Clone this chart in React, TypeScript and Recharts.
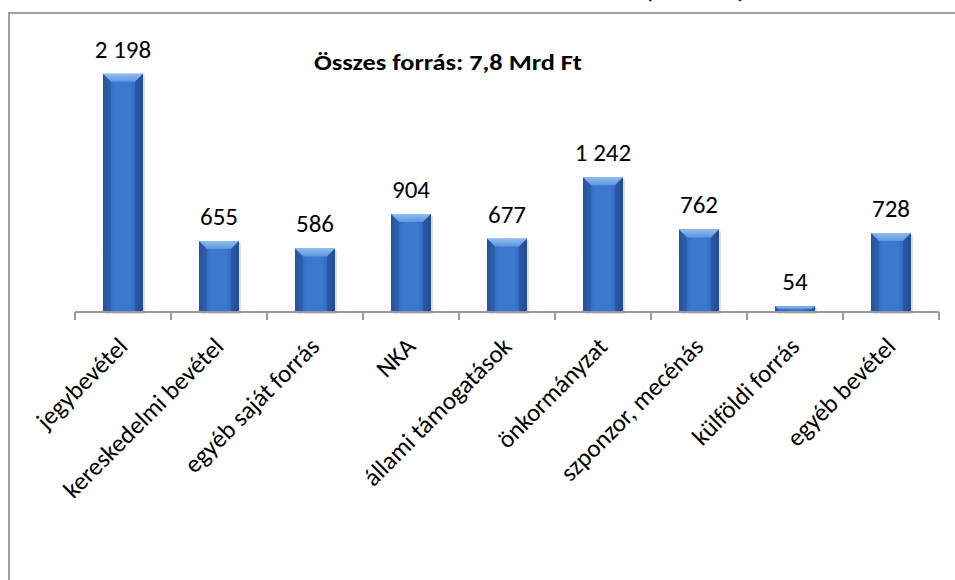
import { BarChart, Bar, XAxis, YAxis, LabelList } from "recharts";

const CATEGORIES = [
  "jegybevétel",
  "kereskedelmi bevétel",
  "egyéb saját forrás",
  "NKA",
  "állami támogatások",
  "önkormányzat",
  "szponzor, mecénás",
  "külföldi forrás",
  "egyéb bevétel",
];
const VALUES = [2198, 655, 586, 904, 677, 1242, 762, 54, 728];
const Y_DOMAIN = [0, 2500];
const TITLE = "Összes forrás: 7,8 Mrd Ft";
const UNIT = "(millió Ft)";

const data = CATEGORIES.map((name, i) => ({ name, value: VALUES[i] }));

const FONT = "Carlito, Calibri, Lato, sans-serif";
const AXIS = "#9a9a9a";

const fmt = (v: any) => String(v).replace(/\B(?=(\d{3})+(?!\d))/g, " ");

const BevelBar = (props: any) => {
  const { x, y, width, height } = props;
  if (!height || height <= 0) return null;
  const b = Math.min(8, height / 2);
  return (
    <g>
      <rect x={x + 2} y={y + 2} width={width} height={height} fill="rgba(0,0,0,0.12)" />
      <rect x={x} y={y} width={width} height={height} fill="url(#barBody)" />
      <polygon
        points={`${x},${y} ${x + width},${y} ${x + width - b},${y + b} ${x + b},${y + b}`}
        fill="url(#barTop)"
      />
      <polygon
        points={`${x},${y} ${x + b},${y + b} ${x + b},${y + height} ${x},${y + height}`}
        fill="rgba(20,50,110,0.22)"
      />
      <polygon
        points={`${x + width},${y} ${x + width - b},${y + b} ${x + width - b},${y + height} ${x + width},${y + height}`}
        fill="rgba(20,50,110,0.32)"
      />
    </g>
  );
};

const CatTick = (props: any) => {
  const { x, y, payload, index } = props;
  const half = payload && payload.offset ? payload.offset : 48;
  return (
    <g>
      <line x1={x - half} y1={y} x2={x - half} y2={y + 8} stroke={AXIS} strokeWidth={2} />
      {index === CATEGORIES.length - 1 && (
        <line x1={x + half} y1={y} x2={x + half} y2={y + 8} stroke={AXIS} strokeWidth={2} />
      )}
      <text
        transform={`translate(${x + 6},${y + 36}) rotate(-45)`}
        textAnchor="end"
        fontSize={25}
        fontFamily={FONT}
        fill="#000"
      >
        {payload.value}
      </text>
    </g>
  );
};

export default function App() {
  return (
    <div style={{ position: "fixed", left: 0, top: 0, width: 955, height: 580, overflow: "hidden", background: "#fff" }}>
      <BarChart
        width={955}
        height={580}
        data={data}
        margin={{ top: 41, right: 16, left: 75, bottom: 68 }}
        barSize={40}
      >
        <defs>
          <linearGradient id="barBody" x1="0" y1="0" x2="1" y2="0">
            <stop offset="0%" stopColor="#2c5fae" />
            <stop offset="35%" stopColor="#3d78cf" />
            <stop offset="65%" stopColor="#3d78cf" />
            <stop offset="100%" stopColor="#2a5aa6" />
          </linearGradient>
          <linearGradient id="barTop" x1="0" y1="0" x2="0" y2="1">
            <stop offset="0%" stopColor="#8fbdf2" />
            <stop offset="100%" stopColor="#5b95e0" />
          </linearGradient>
        </defs>
        <YAxis hide domain={Y_DOMAIN} width={0} />
        <XAxis
          dataKey="name"
          interval={0}
          height={200}
          tickLine={false}
          tickSize={0}
          tickMargin={0}
          axisLine={{ stroke: AXIS, strokeWidth: 2 }}
          tick={<CatTick />}
        />
        <Bar dataKey="value" shape={<BevelBar />} isAnimationActive={false}>
          <LabelList
            dataKey="value"
            position="top"
            offset={16}
            formatter={fmt}
            fontSize={25}
            fontFamily={FONT}
            fill="#000"
          />
        </Bar>
      </BarChart>
      <svg width={955} height={580} style={{ position: "absolute", left: 0, top: 0, pointerEvents: "none" }}>
        <line x1={9} y1={13} x2={955} y2={13} stroke="#a0a0a0" strokeWidth={2} />
        <line x1={9} y1={12} x2={9} y2={580} stroke="#a0a0a0" strokeWidth={2} />
        <text x={314} y={70} fontSize={23} fontWeight="bold" fontFamily={FONT} fill="#000" textLength={268} lengthAdjust="spacingAndGlyphs">
          {TITLE}
        </text>
        <text x={645} y={-2} fontSize={22} fontWeight="bold" fontFamily={FONT} fill="#000" textLength={100} lengthAdjust="spacingAndGlyphs">
          {UNIT}
        </text>
      </svg>
    </div>
  );
}
